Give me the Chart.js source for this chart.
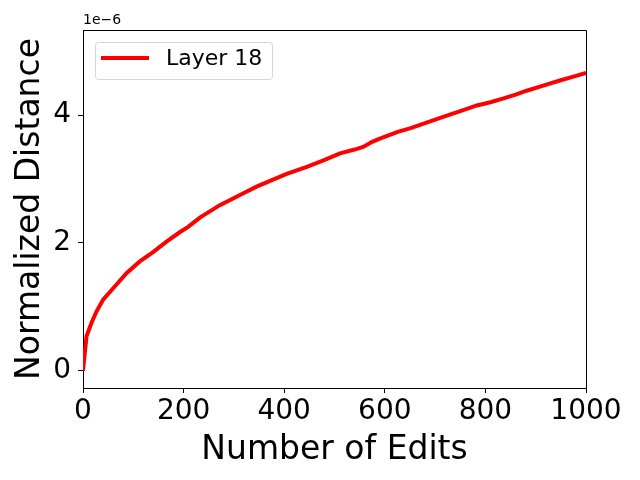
<!doctype html>
<html>

<head>
	<title>Normalized Distance</title>
	<script src="https://cdn.jsdelivr.net/npm/chart.js@4"></script>
	<style>
		html, body {
			margin: 0;
			padding: 0;
			background: #fff;
		}
	</style>
</head>

<body>
	<div style="width:640px;height:480px;">
		<canvas id="canvas" width="640" height="480"></canvas>
	</div>
	<script>
		// values are in units of 1e-6 (shown as the offset label)
		var edits = [0, 7, 17, 27, 40, 60, 87, 113, 140, 166, 193, 209, 233, 272, 312, 345, 372, 405, 445, 478, 511, 540, 557, 575, 590, 627, 650, 683, 716, 750, 783, 810, 836, 860, 882, 915, 948, 975, 1000];
		var layer18 = [0, 0.54, 0.75, 0.93, 1.11, 1.29, 1.53, 1.71, 1.86, 2.02, 2.17, 2.25, 2.40, 2.59, 2.75, 2.88, 2.97, 3.08, 3.19, 3.29, 3.40, 3.46, 3.50, 3.58, 3.63, 3.74, 3.79, 3.88, 3.97, 4.06, 4.15, 4.20, 4.26, 4.32, 4.38, 4.46, 4.54, 4.60, 4.66];
		var xTicks = [0, 200, 400, 600, 800, 1000];
		var yTicks = [0, 2, 4];
		var offsetLabel = '1e\u22126';

		var FONT = 'DejaVu Sans';

		var framePlugin = {
			id: 'frame',
			afterDraw: function(chart) {
				var ctx = chart.ctx;
				var a = chart.chartArea;
				ctx.save();
				// top and right spines
				ctx.strokeStyle = '#000';
				ctx.lineWidth = 1;
				ctx.beginPath();
				ctx.moveTo(a.left, a.top + 0.5);
				ctx.lineTo(a.right + 0.5, a.top + 0.5);
				ctx.lineTo(a.right + 0.5, a.bottom);
				ctx.stroke();

				// offset label
				ctx.fillStyle = '#000';
				ctx.font = '14px ' + FONT;
				ctx.textAlign = 'left';
				ctx.textBaseline = 'bottom';
				ctx.fillText(offsetLabel, a.left, a.top - 3);

				// legend box
				var ds = chart.data.datasets[0];
				var bx = a.left + 12, by = a.top + 12, bw = 177, bh = 37;
				ctx.fillStyle = 'rgba(255,255,255,0.8)';
				ctx.strokeStyle = '#d6d6d6';
				ctx.lineWidth = 1;
				ctx.beginPath();
				ctx.roundRect(bx + 0.5, by + 0.5, bw, bh, 3);
				ctx.fill();
				ctx.stroke();
				ctx.strokeStyle = ds.borderColor;
				ctx.lineWidth = 4;
				ctx.beginPath();
				ctx.moveTo(bx + 6, by + 16);
				ctx.lineTo(bx + 54, by + 16);
				ctx.stroke();
				ctx.fillStyle = '#000';
				ctx.font = '22px ' + FONT;
				ctx.textBaseline = 'middle';
				ctx.fillText(ds.label, bx + 71, by + 17);
				ctx.restore();
			}
		};

		var config = {
			type: 'line',
			data: {
				datasets: [{
					label: 'Layer 18',
					data: edits.map(function(e, i) {
						return {x: e, y: layer18[i]};
					}),
					borderColor: '#ff0000',
					backgroundColor: '#ff0000',
					borderWidth: 4,
					pointRadius: 0,
					tension: 0,
					fill: false
				}]
			},
			options: {
				responsive: false,
				animation: false,
				layout: {
					padding: {top: 30, right: 54, left: 11, bottom: 10}
				},
				plugins: {
					legend: {display: false},
					tooltip: {enabled: false}
				},
				scales: {
					x: {
						type: 'linear',
						min: 0,
						max: 1000,
						afterBuildTicks: function(scale) {
							scale.ticks = xTicks.map(function(v) { return {value: v}; });
						},
						afterFit: function(scale) {
							scale.height = 82;
						},
						grid: {
							drawOnChartArea: false,
							drawTicks: true,
							tickLength: 5,
							tickColor: '#000'
						},
						border: {display: true, color: '#000', width: 1},
						ticks: {
							color: '#000',
							font: {family: FONT, size: 28},
							padding: 2,
							maxRotation: 0,
							callback: function(v) { return String(v); }
						},
						title: {
							display: true,
							text: 'Number of Edits',
							color: '#000',
							font: {family: FONT, size: 33},
							padding: {top: 0, bottom: 0}
						}
					},
					y: {
						type: 'linear',
						min: -0.27,
						max: 5.33,
						afterBuildTicks: function(scale) {
							scale.ticks = yTicks.map(function(v) { return {value: v}; });
						},
						afterFit: function(scale) {
							scale.width = 72;
						},
						grid: {
							drawOnChartArea: false,
							drawTicks: true,
							tickLength: 5,
							tickColor: '#000'
						},
						border: {display: true, color: '#000', width: 1},
						ticks: {
							color: '#000',
							font: {family: FONT, size: 28},
							padding: 7,
							callback: function(v) { return String(v); }
						},
						title: {
							display: true,
							text: 'Normalized Distance',
							color: '#000',
							font: {family: FONT, size: 33},
							padding: {top: 0, bottom: 0}
						}
					}
				}
			},
			plugins: [framePlugin]
		};

		window.onload = function() {
			window.myLine = new Chart('canvas', config);
		};
	</script>
</body>

</html>
